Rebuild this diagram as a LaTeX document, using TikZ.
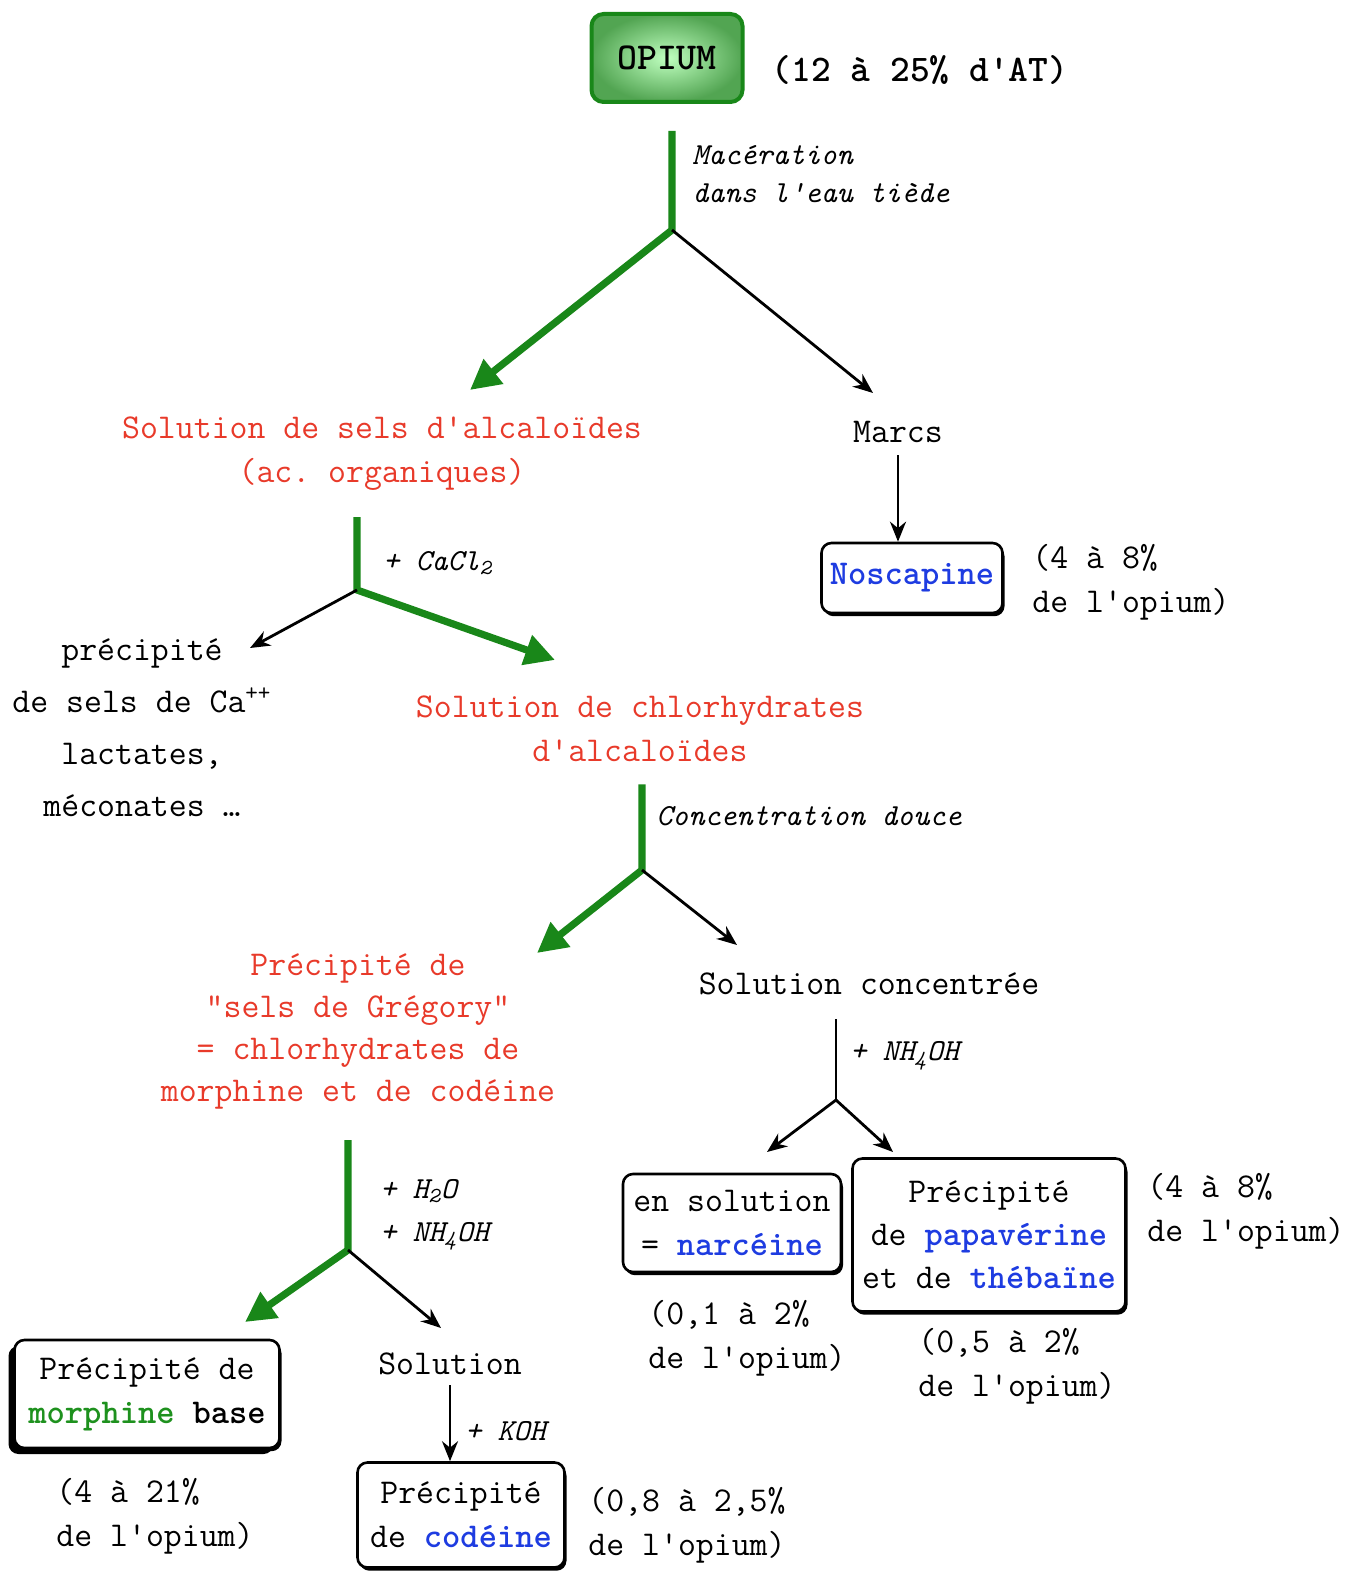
\documentclass[tikz,border=0pt]{standalone}
\usepackage{fontspec}
\usetikzlibrary{arrows.meta,shadows}
\definecolor{vert}{RGB}{25,135,25}
\definecolor{vertm}{RGB}{30,145,30}
\definecolor{rouge}{RGB}{232,58,42}
\definecolor{bleu}{RGB}{30,60,225}
\frenchspacing

\begin{document}
\begin{tikzpicture}[x=0.5pt, y=-0.5pt,
    every node/.style={inner sep=0pt, align=center, font=\ttfamily\fontsize{17.4}{22}\selectfont},
    sel/.style={text=rouge},
    reac/.style={anchor=west, align=left, font=\ttfamily\itshape\fontsize{15.3}{19}\selectfont},
    pct/.style={anchor=west, align=left},
    boite/.style={draw, line width=1.3pt, rounded corners=5pt, fill=white,
        drop shadow={shadow xshift=1pt, shadow yshift=-1.6pt, fill=black, opacity=1}},
    flechev/.style={draw=vert, line width=3.6pt, line join=miter, -{Triangle[length=15pt, width=15pt]}},
    flechen/.style={draw=black, line width=1.4pt, -{Stealth[length=10pt, width=8pt]}},
    tige/.style={draw=black, line width=1.4pt}]
    \useasboundingbox (0, 0) rectangle (1359, 1573);

    % Opium de départ
    \node[draw=vert, line width=2pt, rounded corners=6pt, inner color=green!25!white, outer color=vert!75,
        minimum width=75.5pt, minimum height=44pt, font=\ttfamily\bfseries\fontsize{19}{22}\selectfont]
        (opium) at (667, 58) {OPIUM};
    \node[font=\ttfamily\bfseries\fontsize{18.8}{22}\selectfont] (teneur) at (920, 70) {(12 à 25\% d'AT)};

    % Macération
    \coordinate (j1) at (672, 230);
    \coordinate (g1) at (470, 390);
    \coordinate (n1) at (873, 393);
    \node[reac] (macer) at (692, 174) {Macération\\dans l'eau tiède};
    \draw[flechev, shorten <=13.5pt] (opium.south -| j1) -- (j1) -- (g1);
    \draw[flechen] (j1) -- (n1);

    \node[sel] (sels) at (382, 454) {Solution de sels d'alcaloïdes\\(ac. organiques)};
    \node (marcs) at (898, 432) {Marcs};

    % Noscapine
    \node[boite, minimum width=90.5pt, minimum height=35pt] (nosc) at (912, 578)
        {\textbf{\textcolor{bleu}{Noscapine}}};
    \node[pct] (noscpct) at (1032, 582) {(4 à 8\%\\de l'opium)};
    \draw[flechen, shorten <=6pt] (marcs.south) -- (marcs.south |- nosc.north);

    % CaCl2
    \coordinate (j2) at (357, 590);
    \coordinate (n2) at (250, 648);
    \coordinate (g2) at (555, 660);
    \node[reac] (cacl) at (383, 563) {+ CaCl\textsubscript{2}};
    \draw[flechev, shorten <=13pt] (sels.south -| j2) -- (j2) -- (g2);
    \draw[flechen] (j2) -- (n2);

    \node[font=\ttfamily\fontsize{17.4}{26}\selectfont] (precip) at (142, 728)
        {précipité\\de sels de Ca\textsuperscript{++}\\lactates,\\méconates …};
    \node[sel] (chlor) at (640, 729) {Solution de chlorhydrates\\d'alcaloïdes};

    % Concentration
    \coordinate (j3) at (642, 870);
    \coordinate (g3) at (537, 953);
    \coordinate (n3) at (737, 945);
    \node[reac] (conc) at (656, 816) {Concentration douce};
    \draw[flechev, shorten <=11pt] (chlor.south -| j3) -- (j3) -- (g3);
    \draw[flechen] (j3) -- (n3);

    \node[sel, font=\ttfamily\fontsize{17.4}{21}\selectfont] (gregory) at (358, 1032)
        {Précipité de\\"sels de Grégory"\\= chlorhydrates de\\morphine et de codéine};
    \node (solconc) at (869, 984) {Solution concentrée};

    % NH4OH
    \coordinate (j4) at (836, 1100);
    \coordinate (n4a) at (767, 1152);
    \coordinate (n4b) at (893, 1152);
    \node[reac] (nh) at (850, 1056) {+ NH\textsubscript{4}OH};
    \draw[tige, shorten <=12pt] (solconc.south -| j4) -- (j4);
    \draw[flechen] (j4) -- (n4a);
    \draw[flechen] (j4) -- (n4b);

    \node[boite, minimum width=109pt, minimum height=49pt] (narc) at (732, 1223)
        {en solution\\= \textbf{\textcolor{bleu}{narcéine}}};
    \node[pct] (narcpct) at (648, 1338) {(0,1 à 2\%\\de l'opium)};
    \node[boite, minimum width=136.5pt, minimum height=76.5pt, font=\ttfamily\fontsize{17.4}{21.5}\selectfont]
        (papa) at (989, 1235)
        {Précipité\\de \textbf{\textcolor{bleu}{papavérine}}\\et de \textbf{\textcolor{bleu}{thébaïne}}};
    \node[pct] (papapct) at (1147, 1211) {(4 à 8\%\\de l'opium)};
    \node[pct] (papapct2) at (918, 1366) {(0,5 à 2\%\\de l'opium)};

    % H2O + NH4OH
    \coordinate (j5) at (348, 1250);
    \coordinate (g5) at (245, 1322);
    \coordinate (n5) at (441, 1328);
    \node[reac, font=\ttfamily\itshape\fontsize{15.3}{21.5}\selectfont] (hdo) at (380, 1215)
        {+ H\textsubscript{2}O\\+ NH\textsubscript{4}OH};
    \draw[flechev, shorten <=15pt] (gregory.south -| j5) -- (j5) -- (g5);
    \draw[flechen] (j5) -- (n5);

    % Morphine
    \node[boite, minimum width=132.5pt, minimum height=54pt,
        drop shadow={shadow xshift=-3pt, shadow yshift=-3pt, fill=black, opacity=1}]
        (morph) at (147, 1394)
        {Précipité de\\\textbf{\textcolor{vertm}{morphine}} \textbf{base}};
    \node[pct] (morphpct) at (56, 1516) {(4 à 21\%\\de l'opium)};

    % Codéine
    \node (sol) at (450, 1364) {Solution};
    \node[boite, minimum width=103.5pt, minimum height=52.5pt] (cod) at (461, 1515)
        {Précipité\\de \textbf{\textcolor{bleu}{codéine}}};
    \node[reac] (koh) at (465, 1431) {+ KOH};
    \draw[flechen, shorten <=5pt] (sol.south) -- (sol.south |- cod.north);
    \node[pct] (codpct) at (588, 1525) {(0,8 à 2,5\%\\de l'opium)};
\end{tikzpicture}
\end{document}
